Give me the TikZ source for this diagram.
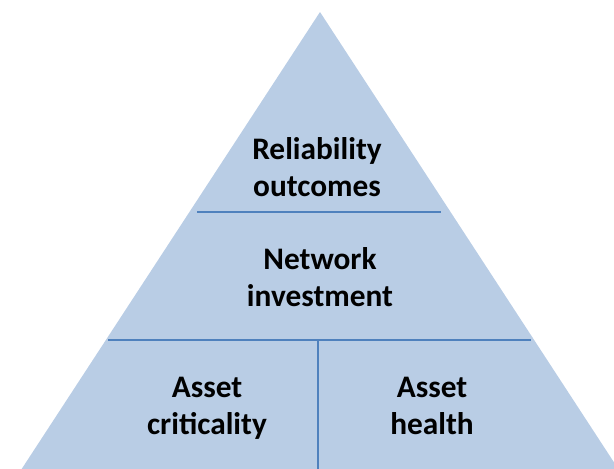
\documentclass[tikz,border=0pt]{standalone}
\usepackage{fontspec}
\setmainfont{Carlito}
\definecolor{tierfill}{HTML}{B9CDE5}
\definecolor{tierline}{HTML}{4F81BD}

\begin{document}
\begin{tikzpicture}[x=0.75pt, y=-0.75pt,
    tier/.style={align=center, font=\fontsize{23.5}{28}\selectfont\bfseries, text=black, inner sep=0pt},
    divider/.style={line width=1.5pt, color=tierline}]
		%%%%% START %%%%%
		
		\useasboundingbox (0, 0) rectangle (614, 468);
		\clip (0, 0) rectangle (614, 468);
		
		\fill[tierfill] (320, 12) -- (619, 470) -- (21, 470) -- cycle;
		
		\draw[divider] (197, 212) -- (441, 212);
		\draw[divider] (108, 340) -- (531, 340);
		\draw[divider] (318, 340) -- (318, 470);
		
		\node[tier] (reliability) at (317, 167) {Reliability\\outcomes};
		\node[tier] (investment) at (320, 277) {Network\\investment};
		\node[tier] (criticality) at (207, 408) {Asset\\criticality};
		\node[tier] (health) at (432, 406) {Asset\\health};
		
		%%%%% END %%%%%
\end{tikzpicture}
\end{document}
